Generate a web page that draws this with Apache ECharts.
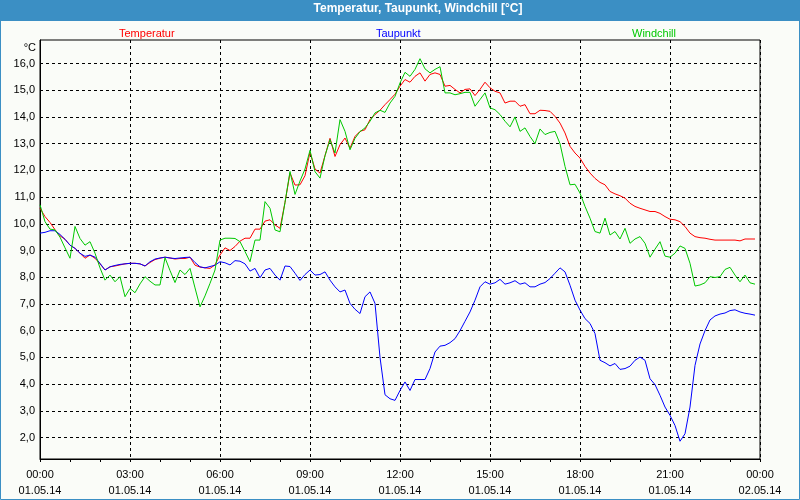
<!DOCTYPE html>
<html>
<head>
<meta charset="utf-8">
<script src="https://cdn.jsdelivr.net/npm/echarts@6/dist/echarts.min.js"></script>
<style>
html,body{margin:0;padding:0;background:#fafcf8;}
#chart{width:800px;height:500px;}
</style>
</head>
<body>
<div id="chart"></div>
<script>
// 10-minute samples, 01.05.14 00:00 .. 23:50
const STEP_HOURS = 10 / 60;

const temperatur = [
10.58,10.27,10.05,9.78,9.55,9.42,9.2,9.08,8.9,8.71,
8.83,8.71,8.5,8.27,8.39,8.42,8.46,8.5,8.52,8.52,
8.5,8.42,8.55,8.66,8.71,8.75,8.72,8.68,8.7,8.7,
8.75,8.45,8.38,8.35,8.33,8.46,8.83,9.1,9.0,9.15,
9.35,9.46,9.46,9.8,9.8,10.1,10.15,9.96,9.83,10.8,
11.9,11.45,11.46,11.8,12.68,12.05,11.9,12.55,13.2,12.52,
12.96,13.21,12.83,13.27,13.46,13.52,13.9,14.09,14.25,14.46,
14.65,14.85,15.15,15.4,15.3,15.52,15.65,15.34,15.59,15.65,
15.59,15.15,15.18,15.03,14.9,15.03,15.05,14.8,15.03,15.3,
15.09,14.96,14.9,14.52,14.59,14.59,14.4,14.46,14.12,14.12,
14.25,14.24,14.21,14.02,13.77,13.4,12.9,12.65,12.46,12.15,
11.9,11.7,11.55,11.46,11.21,11.12,11.05,10.96,10.77,10.65,
10.58,10.52,10.46,10.46,10.39,10.27,10.17,10.15,10.08,9.9,
9.65,9.52,9.48,9.46,9.42,9.39,9.39,9.39,9.39,9.39,
9.36,9.43,9.43,9.43
];

const taupunkt = [
9.65,9.68,9.74,9.74,9.6,9.42,9.2,9.08,8.9,8.78,
8.83,8.75,8.52,8.27,8.39,8.44,8.48,8.5,8.52,8.52,
8.5,8.42,8.58,8.68,8.72,8.75,8.72,8.7,8.72,8.74,
8.75,8.55,8.39,8.35,8.4,8.45,8.58,8.54,8.46,8.62,
8.6,8.5,8.23,8.33,7.98,8.27,8.33,8.08,7.89,8.42,
8.4,8.15,7.88,8.1,8.27,8.08,8.1,8.2,7.89,7.64,
7.45,7.52,7.02,6.8,6.64,7.27,7.45,7.02,5.0,3.6,
3.45,3.39,3.76,4.08,3.76,4.17,4.17,4.17,4.58,5.2,
5.42,5.45,5.55,5.7,6.0,6.35,6.7,7.14,7.64,7.83,
7.74,7.79,7.92,7.74,7.79,7.87,7.74,7.79,7.64,7.64,
7.74,7.8,7.95,8.15,8.35,8.2,7.7,7.14,6.77,6.45,
6.27,5.89,4.89,4.8,4.68,4.77,4.55,4.58,4.67,4.89,
5.01,4.89,4.2,3.98,3.58,3.14,2.83,2.45,1.86,2.14,
3.14,4.7,5.5,6.0,6.4,6.55,6.62,6.66,6.75,6.78,
6.7,6.65,6.62,6.58
];

const windchill = [
10.71,10.08,9.8,9.77,9.5,9.1,8.71,9.9,9.45,9.2,
9.33,8.9,8.35,7.89,8.08,7.83,8.02,7.27,7.58,7.42,
7.75,8.02,7.85,7.71,7.71,8.73,8.25,7.8,8.27,8.1,
8.33,7.6,6.89,7.3,7.77,8.27,9.39,9.46,9.46,9.45,
9.33,8.96,8.58,9.39,9.39,10.83,10.58,9.77,9.7,10.8,
11.96,11.1,11.6,12.05,12.75,11.95,11.71,12.55,13.15,12.65,
13.9,13.46,12.77,13.2,13.45,13.59,13.84,14.15,14.25,14.17,
14.52,14.77,15.27,15.67,15.52,15.78,16.18,15.8,15.65,15.78,
15.88,14.9,14.9,14.83,14.87,14.92,14.92,14.4,14.65,14.9,
14.34,14.27,14.09,13.84,13.63,14.0,13.46,13.59,13.27,13.0,
13.55,13.34,13.42,13.46,13.0,12.15,11.46,11.48,11.15,10.65,
10.21,9.71,9.65,10.21,9.58,9.71,9.43,9.83,9.27,9.43,
9.52,9.27,8.75,9.05,9.33,8.79,8.75,8.9,9.17,9.08,
8.52,7.67,7.71,7.79,8.02,7.99,8.02,8.29,8.37,8.08,
7.83,8.08,7.79,7.74
];

const yTickValues = [2,3,4,5,6,7,8,9,10,11,12,13,14,15,16];
const xTickLabels = {
  0:'00:00\n01.05.14', 3:'03:00\n01.05.14', 6:'06:00\n01.05.14',
  9:'09:00\n01.05.14', 12:'12:00\n01.05.14', 15:'15:00\n01.05.14',
  18:'18:00\n01.05.14', 21:'21:00\n01.05.14', 24:'00:00\n02.05.14'
};
const seriesNames = ['Temperatur','Taupunkt','Windchill'];
const seriesColors = ['#ff0000','#0000ff','#00c800'];

const FONT = '"Liberation Sans", Arial, sans-serif';
const toPairs = arr => arr.map((v, i) => [i * STEP_HOURS, v]);

const chart = echarts.init(document.getElementById('chart'), null, {renderer:'canvas'});

function legendFor(i, left) {
  return {
    data: [{name: seriesNames[i], textStyle: {color: seriesColors[i]}}],
    left: left, top: 28, icon: 'rect', itemWidth: 0, itemHeight: 0,
    itemGap: 0, padding: 0, selectedMode: false,
    textStyle: {fontFamily: FONT, fontSize: 11, padding: [0,0,0,-5]}
  };
}

chart.setOption({
  backgroundColor: '#fafcf8',
  animation: false,
  graphic: [
    {type:'rect', shape:{x:0,y:0,width:800,height:21}, style:{fill:'#3b8fc4'}, z:-1},
    {type:'rect', shape:{x:0.5,y:0.5,width:799,height:499}, style:{fill:null, stroke:'#3b8fc4', lineWidth:1}, z:-1}
  ],
  title: {
    text: 'Temperatur, Taupunkt, Windchill [°C]',
    left: 418, top: 3, textAlign: 'center', padding: 0,
    textStyle: {color:'#ffffff', fontFamily: FONT, fontSize: 12, fontWeight:'bold'}
  },
  legend: [legendFor(0, 119), legendFor(1, 376), legendFor(2, 632)],
  grid: {left: 40, top: 40, width: 720, height: 419, show: true, borderColor:'#000', borderWidth:1, backgroundColor:'transparent'},
  xAxis: {
    type: 'value', min: 0, max: 24, interval: 3,
    axisLine: {show:true, lineStyle:{color:'#000', width:1}},
    axisTick: {show:true, length:3, lineStyle:{color:'#000'}},
    minorTick: {show:true, splitNumber:3, length:3, lineStyle:{color:'#000'}},
    splitLine: {show:true, lineStyle:{color:'#000', type:[3,3], width:1}},
    axisLabel: {
      margin: 8, color:'#000', fontFamily: FONT, fontSize: 11, lineHeight: 16,
      formatter: v => xTickLabels[v] || ''
    }
  },
  yAxis: {
    type: 'value', min: 1.195, max: 16.88,
    name: '°C', nameLocation: 'end', nameGap: -8,
    nameTextStyle: {color:'#000', fontFamily: FONT, fontSize: 11, align:'right', verticalAlign:'middle', padding:[0,4,0,0]},
    axisLine: {show:true, lineStyle:{color:'#000', width:1}},
    axisTick: {show:false, customValues: yTickValues},
    axisLabel: {
      customValues: yTickValues, margin: 5, color:'#000', fontFamily: FONT, fontSize: 11,
      formatter: v => v.toFixed(1).replace('.', ',')
    },
    splitLine: {show:true, lineStyle:{color:'#000', type:[3,3], width:1}}
  },
  series: seriesNames.map((name, i) => ({
    name: name, type: 'line', showSymbol: false, symbol: 'none',
    data: toPairs([temperatur, taupunkt, windchill][i]),
    lineStyle: {color: seriesColors[i], width: 1},
    itemStyle: {color: seriesColors[i]},
    emphasis: {disabled: true}
  }))
});
</script>
</body>
</html>
